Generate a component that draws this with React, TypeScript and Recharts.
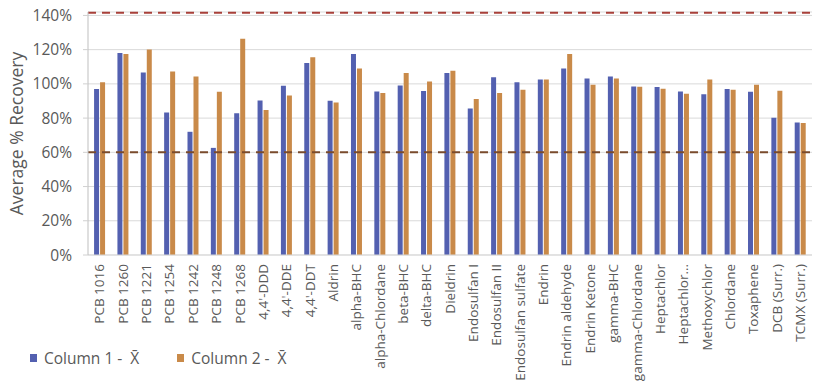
import { BarChart, Bar, XAxis, YAxis, CartesianGrid, ReferenceLine, Legend } from "recharts";

const compounds = [
  "PCB 1016", "PCB 1260", "PCB 1221", "PCB 1254", "PCB 1242", "PCB 1248", "PCB 1268",
  "4,4'-DDD", "4,4'-DDE", "4,4'-DDT", "Aldrin", "alpha-BHC", "alpha-Chlordane", "beta-BHC",
  "delta-BHC", "Dieldrin", "Endosulfan I", "Endosulfan II", "Endosulfan sulfate", "Endrin",
  "Endrin aldehyde", "Endrin Ketone", "gamma-BHC", "gamma-Chlordane", "Heptachlor",
  "Heptachlor…", "Methoxychlor", "Chlordane", "Toxaphene", "DCB (Surr.)", "TCMX (Surr.)",
];

const column1 = [
  0.97, 1.18, 1.067, 0.833, 0.72, 0.626, 0.829, 0.903, 0.989, 1.122, 0.901, 1.174, 0.956, 0.991,
  0.958, 1.063, 0.856, 1.038, 1.01, 1.025, 1.09, 1.032, 1.043, 0.985, 0.981, 0.956, 0.94, 0.97,
  0.954, 0.802, 0.774,
];

const column2 = [
  1.01, 1.174, 1.201, 1.073, 1.043, 0.954, 1.264, 0.847, 0.932, 1.155, 0.891, 1.09, 0.946, 1.063,
  1.014, 1.077, 0.911, 0.946, 0.965, 1.025, 1.174, 0.995, 1.032, 0.983, 0.971, 0.942, 1.026, 0.965,
  0.995, 0.96, 0.772,
];

const yTicks = [0, 0.2, 0.4, 0.6, 0.8, 1.0, 1.2, 1.4];
const upperLimit = 1.415;
const lowerLimit = 0.6;

const seriesNames = ["Column 1 - \u00a0X\u0304", "Column 2 - \u00a0X\u0304"];
const BLUE = "#5360B0";
const ORANGE = "#C98A49";
const TEXT = "#595959";
const FONT = "'Open Sans', 'Noto Sans', sans-serif";

const data = compounds.map((name, i) => ({ name, c1: column1[i], c2: column2[i] }));

function CompoundTick({ x, y, payload }: any) {
  return (
    <text
      x={x}
      y={y}
      dy="0.35em"
      transform={`rotate(-90, ${x}, ${y})`}
      textAnchor="end"
      fill={TEXT}
      fontSize={13.5}
      fontFamily={FONT}
    >
      {payload.value}
    </text>
  );
}

function AxisTitle({ viewBox }: any) {
  const cx = viewBox.x + 17;
  const cy = viewBox.y + viewBox.height / 2;
  return (
    <text
      x={cx}
      y={cy}
      dy="0.35em"
      transform={`rotate(-90, ${cx}, ${cy})`}
      textAnchor="middle"
      fill={TEXT}
      fontSize={17.5}
      fontFamily={FONT}
    >
      Average % Recovery
    </text>
  );
}

function LegendContent({ payload }: any) {
  return (
    <div style={{ display: "flex", gap: 38, fontFamily: FONT, fontSize: 15.5, color: TEXT }}>
      {(payload || []).map((p: any) => (
        <span key={p.value} style={{ display: "flex", alignItems: "center", whiteSpace: "pre" }}>
          <span style={{ display: "inline-block", width: 7, height: 8, background: p.color, marginRight: 7 }} />
          {p.value}
        </span>
      ))}
    </div>
  );
}

export default function App() {
  return (
    <div style={{ position: "absolute", left: 0, top: 0 }}>
      <BarChart
        width={823}
        height={392}
        data={data}
        margin={{ top: 12, right: 11, left: 0, bottom: 13 }}
        barCategoryGap="26%"
        barGap={1}
      >
        <CartesianGrid vertical={false} stroke="#d9d9d9" />
        <XAxis
          dataKey="name"
          interval={0}
          height={100}
          tick={<CompoundTick />}
          tickLine={false}
          tickMargin={3}
          axisLine={{ stroke: "#d9d9d9" }}
        />
        <YAxis
          width={88}
          domain={[0, 1.42]}
          ticks={yTicks}
          tickFormatter={(v: number) => `${Math.round(v * 100)}%`}
          tick={{ fill: TEXT, fontSize: 15.5, fontFamily: FONT }}
          tickLine={{ stroke: "#d0d0d0" }}
          tickSize={5}
          tickMargin={11}
          axisLine={{ stroke: "#bfbfbf" }}
          label={<AxisTitle />}
        />
        <Legend
          content={<LegendContent />}
          wrapperStyle={{ top: 347, left: 30, bottom: "auto", width: "auto", height: 24 }}
        />
        <Bar dataKey="c1" name={seriesNames[0]} fill={BLUE} isAnimationActive={false} />
        <Bar dataKey="c2" name={seriesNames[1]} fill={ORANGE} isAnimationActive={false} />
        <ReferenceLine y={upperLimit} stroke="#A8403A" strokeWidth={2} strokeDasharray="8 6" />
        <ReferenceLine y={lowerLimit} stroke="#7A4B2C" strokeWidth={2} strokeDasharray="8 6" />
      </BarChart>
    </div>
  );
}
